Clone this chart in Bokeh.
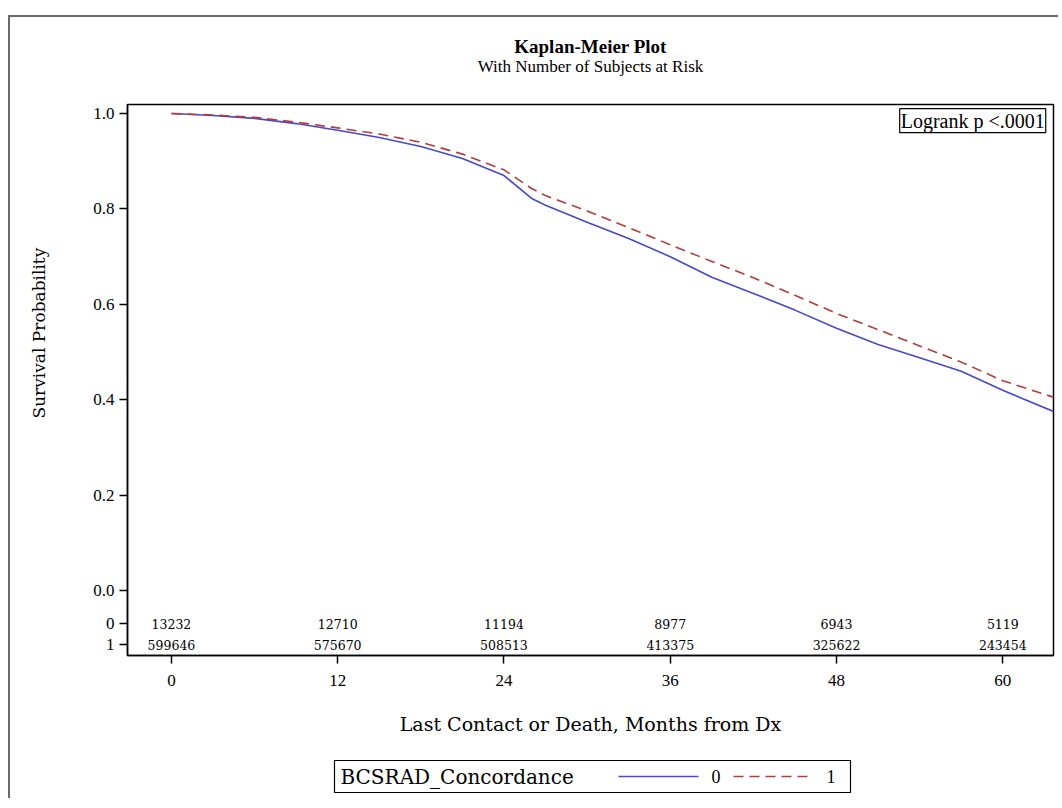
from bokeh.plotting import figure
from bokeh.models import Range1d, Title, Label, FixedTicker, ColumnDataSource
from bokeh.layouts import column
from bokeh.embed import file_html
from bokeh.resources import INLINE
from bokeh.core.properties import value

# ---- data ----
months_0 = [0, 3, 6, 9, 12, 15, 18, 21, 24, 26, 27, 30, 33, 36, 39, 42, 45, 48, 51, 54, 57, 60, 63.7]
surv_0 = [1.0, 0.996, 0.990, 0.979, 0.965, 0.950, 0.931, 0.906, 0.870, 0.822, 0.808, 0.772,
          0.738, 0.700, 0.657, 0.623, 0.588, 0.550, 0.516, 0.488, 0.460, 0.420, 0.375]
months_1 = [0, 3, 6, 9, 12, 15, 18, 21, 24, 26, 27, 30, 33, 36, 39, 42, 45, 48, 51, 54, 57, 60, 63.7]
surv_1 = [1.0, 0.997, 0.992, 0.982, 0.970, 0.957, 0.940, 0.915, 0.882, 0.843, 0.828, 0.796,
          0.761, 0.725, 0.690, 0.656, 0.619, 0.581, 0.547, 0.513, 0.479, 0.440, 0.405]

risk_times = [0, 12, 24, 36, 48, 60]
risk_0 = [13232, 12710, 11194, 8977, 6943, 5119]
risk_1 = [599646, 575670, 508513, 413375, 325622, 243454]

x_ticks = [0, 12, 24, 36, 48, 60]
y_ticks = [0.0, 0.2, 0.4, 0.6, 0.8, 1.0]
y_tick_labels = ["0.0", "0.2", "0.4", "0.6", "0.8", "1.0"]
group_labels = ["0", "1"]

title_text = "Kaplan-Meier Plot"
subtitle_text = "With Number of Subjects at Risk"
x_label = "Last Contact or Death, Months from Dx"
y_label = "Survival Probability"
legend_title = "BCSRAD_Concordance"
logrank_text = "Logrank p <.0001"

# ---- styling ----
BLUE = "#4848c8"
RED = "#b03c3c"
SERIF = "Liberation Serif"
SERIF2 = "DejaVu Serif"
BORDER = "2px solid #6a6a6a"
ROW_Y = [-0.069, -0.113]
W = 1050
MB_L, MB_R = 117, 7

p = figure(width=W, height=737,
           x_range=Range1d(-3.17, 63.66), y_range=Range1d(-0.136, 1.019),
           min_border_left=MB_L, min_border_right=MB_R, min_border_top=87, min_border_bottom=99,
           toolbar_location=None, output_backend="svg")
p.styles = {"margin-top": "15px", "margin-left": "8px", "border-top": BORDER, "border-left": BORDER}
p.background_fill_color = "white"
p.border_fill_color = "white"
p.outline_line_color = "black"
p.outline_line_width = 1.5
p.grid.visible = False

# curves
p.line(months_0, surv_0, line_color=BLUE, line_width=1.6)
p.line(months_1, surv_1, line_color=RED, line_width=1.6, line_dash="10 6")

# risk table
src0 = ColumnDataSource(dict(x=risk_times, y=[ROW_Y[0]] * len(risk_times), t=[str(v) for v in risk_0]))
src1 = ColumnDataSource(dict(x=risk_times, y=[ROW_Y[1]] * len(risk_times), t=[str(v) for v in risk_1]))
for s in (src0, src1):
    p.text(x="x", y="y", text="t", source=s, text_align="center", text_baseline="middle",
           text_font=value(SERIF2), text_font_size="12.5px", text_color="black")

# axes
p.xaxis.ticker = FixedTicker(ticks=x_ticks)
p.yaxis.ticker = FixedTicker(ticks=ROW_Y + y_ticks)
overrides = {t: l for t, l in zip(y_ticks, y_tick_labels)}
overrides[ROW_Y[0]] = group_labels[0]
overrides[ROW_Y[1]] = group_labels[1]
p.yaxis.major_label_overrides = overrides
for ax in (p.xaxis, p.yaxis):
    ax.axis_line_color = "black"
    ax.axis_line_width = 1.5
    ax.major_tick_line_color = "black"
    ax.major_tick_line_width = 1.5
    ax.major_tick_out = 8
    ax.major_tick_in = 0
    ax.minor_tick_line_color = None
    ax.major_label_text_font = SERIF
    ax.major_label_text_font_size = "17px"
    ax.major_label_text_color = "black"
p.xaxis.major_label_standoff = 11
p.yaxis.major_label_standoff = 5
p.xaxis.axis_label = x_label
p.xaxis.axis_label_text_font = SERIF2
p.xaxis.axis_label_text_font_size = "19px"
p.xaxis.axis_label_text_font_style = "normal"
p.xaxis.axis_label_standoff = 24
p.xaxis.axis_label_text_color = "black"

# left side: blank spacer (white), then the y-axis title
p.add_layout(Title(text=".", standoff=33, text_color="white",
                   text_font=SERIF2, text_font_size="16px"), "left")
p.add_layout(Title(text=y_label, align="left", offset=237, standoff=-10,
                   text_font=SERIF2, text_font_size="17px", text_font_style="normal",
                   text_color="black"), "left")

# top: blank spacer (white), subtitle, title
p.add_layout(Title(text=".", standoff=18, text_color="white",
                   text_font=SERIF, text_font_size="17px"), "above")
p.add_layout(Title(text=subtitle_text, align="center", standoff=-4,
                   text_font=SERIF, text_font_size="17px", text_font_style="normal",
                   text_color="black"), "above")
p.add_layout(Title(text=title_text, align="center", standoff=0,
                   text_font=SERIF, text_font_size="19px", text_font_style="bold",
                   text_color="black"), "above")

# logrank box
p.add_layout(Label(x=63.1, y=0.985, text=logrank_text, text_align="right", text_baseline="middle",
                   text_font=SERIF, text_font_size="20px", text_color="black",
                   border_line_color="black", border_line_width=1.2,
                   background_fill_color="white", padding=1))

# ---- legend (separate small figure, frame aligned with the main frame) ----
leg = figure(width=W, height=46, x_range=Range1d(0, 926), y_range=Range1d(-1, 33),
             min_border_left=MB_L, min_border_right=MB_R, min_border_top=7, min_border_bottom=5,
             x_axis_location=None, y_axis_location=None,
             toolbar_location=None, output_backend="svg")
leg.styles = {"margin-left": "8px", "border-left": BORDER}
leg.grid.visible = False
leg.outline_line_color = None
leg.border_fill_color = "white"
leg.quad(left=[207], right=[723], bottom=[0], top=[32], fill_color="white",
         line_color="black", line_width=1.2)
leg.text(x=[213], y=[16], text=[legend_title], text_align="left", text_baseline="middle",
         text_font=value(SERIF2), text_font_size="20px", text_color="black")
leg.line([491, 571], [16, 16], line_color=BLUE, line_width=1.6)
leg.text(x=[584], y=[16], text=[group_labels[0]], text_align="left", text_baseline="middle",
         text_font=value(SERIF), text_font_size="18px", text_color="black")
leg.line([606, 686], [16, 16], line_color=RED, line_width=1.6, line_dash="10 6")
leg.text(x=[699], y=[16], text=[group_labels[1]], text_align="left", text_baseline="middle",
         text_font=value(SERIF), text_font_size="18px", text_color="black")

layout = column(p, leg, spacing=0)
open("out.html", "w").write(file_html(layout, INLINE))
